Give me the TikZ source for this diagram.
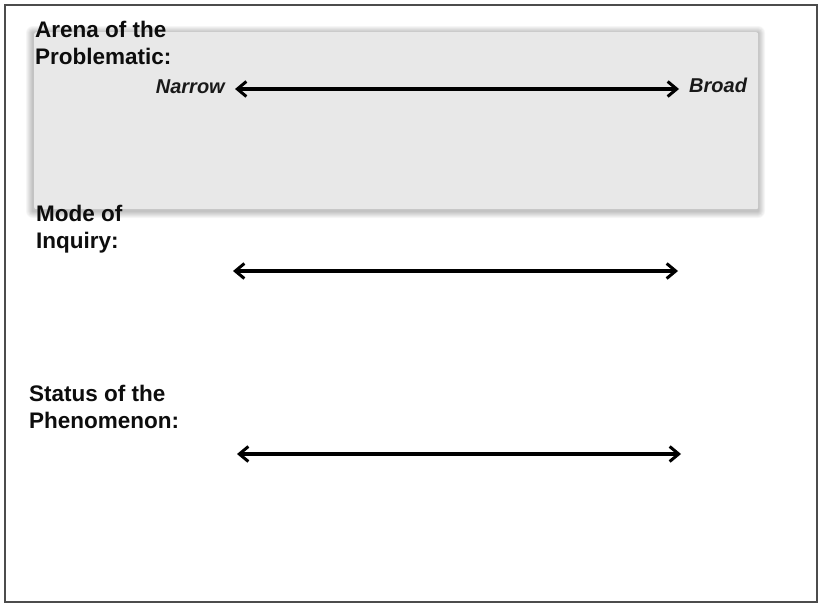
\documentclass[tikz,border=0pt]{standalone}
\usepackage{fontspec}
\setmainfont{Liberation Sans}
\usetikzlibrary{arrows.meta}
\begin{document}
\begin{tikzpicture}[x=1pt,y=-1pt,
  lbl/.style={anchor=north west,font=\bfseries\fontsize{22.5}{26.5}\selectfont,align=left,inner sep=0pt,text=black!95},
  endlbl/.style={font=\bfseries\itshape\fontsize{20}{22}\selectfont,inner sep=0pt,text=black!90},
  dbl/.style={line width=3.2pt,{Straight Barb[length=9pt,width=15pt,line width=3pt]}-{Straight Barb[length=9pt,width=15pt,line width=3pt]}}]
\useasboundingbox (0,0) rectangle (821,605);
\fill[white] (0,0) rectangle (821,605);
\draw[line width=2pt,black!70] (5,5) rectangle (817,602);
% soft shadow / glow around the grey panel
\foreach \i in {1,...,7}{
  \fill[black,opacity=0.035,rounded corners=\i pt] (33-\i,32-\i+1) rectangle (758+\i,210+\i+1);
}
\node[fill=black!9,draw=none,minimum width=724pt,minimum height=177pt,anchor=north west,
  rounded corners=2pt] (box) at (34,32) {};
\node[lbl] (arena) at (35,21) {Arena of the\\Problematic:};
\node[endlbl,anchor=base east] (narrow) at (225,93) {Narrow};
\node[endlbl,anchor=base west] (broad) at (689,92) {Broad};
\coordinate (a1) at (235,89);
\coordinate (b1) at (679,89);
\draw[dbl] (a1) -- (b1);
\node[lbl] (mode) at (36,205) {Mode of\\Inquiry:};
\coordinate (a2) at (233,271);
\coordinate (b2) at (678,271);
\draw[dbl] (a2) -- (b2);
\node[lbl] (status) at (29,385) {Status of the\\Phenomenon:};
\coordinate (a3) at (237,454);
\coordinate (b3) at (681,454);
\draw[dbl] (a3) -- (b3);
\end{tikzpicture}
\end{document}
